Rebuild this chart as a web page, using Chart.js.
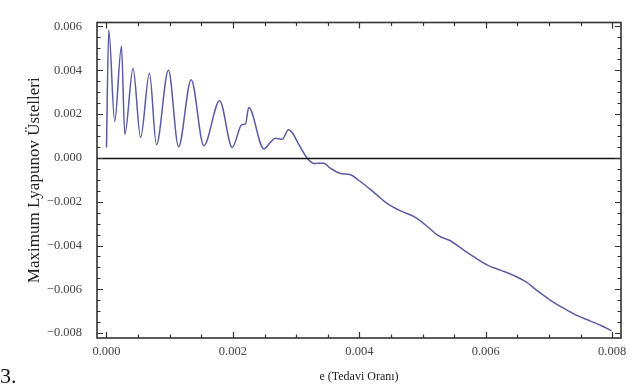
<!DOCTYPE html>
<html>
<head>
<meta charset="utf-8">
<script src="https://cdn.jsdelivr.net/npm/chart.js@4/dist/chart.umd.min.js"></script>
<style>
  html, body { margin: 0; padding: 0; background: #fff; }
  #wrap { position: relative; width: 637px; height: 390px; }
  #fig { position: absolute; left: 0px; top: 363px; font: 22px "Liberation Serif", serif; color: #111; }
</style>
</head>
<body>
<div id="wrap">
  <canvas id="chart" width="637" height="390"></canvas>
  <div id="fig">3.</div>
</div>
<script>
// e (Tedavi Oranı) values and maximum Lyapunov exponent
const eValues = [0, 0.000036, 0.00013, 0.000237, 0.00029, 0.00042, 0.00054, 0.00068, 0.00079, 0.00098,
  0.00114, 0.00134, 0.00154, 0.00179, 0.00199, 0.00214, 0.0022, 0.00225, 0.00249, 0.00259,
  0.00267, 0.00278, 0.00288, 0.00294, 0.00304, 0.00317, 0.00328, 0.00344, 0.00354, 0.0037,
  0.00385, 0.00399, 0.00423, 0.00444, 0.00465, 0.00486, 0.00504, 0.00525, 0.00544, 0.00562,
  0.00581, 0.00602, 0.00623, 0.00644, 0.00665, 0.00681, 0.00702, 0.00723, 0.00744, 0.00765,
  0.00784, 0.00799];
const lyapunov = [0.00048, 0.00584, 0.00166, 0.0051, 0.00107, 0.00408, 0.00093, 0.00386, 0.0006, 0.004,
  0.00051, 0.00357, 0.00056, 0.00261, 0.00048, 0.00151, 0.00155, 0.0023, 0.00041, 0.0007,
  0.0009, 0.00085, 0.00129, 0.00115, 0.00063, 0.00001, -0.00025, -0.00024, -0.00047, -0.00071,
  -0.00076, -0.00102, -0.00157, -0.00208, -0.00242, -0.00267, -0.00304, -0.00355, -0.00378, -0.00414,
  -0.00451, -0.00488, -0.00512, -0.00536, -0.00568, -0.00605, -0.00649, -0.00686, -0.00719, -0.00744,
  -0.00767, -0.00789];

const xTicks = [0, 0.002, 0.004, 0.006, 0.008];
const yTicks = [-0.008, -0.006, -0.004, -0.002, 0, 0.002, 0.004, 0.006];
const xLabel = "e (Tedavi Oranı)";
const yLabel = "Maximum Lyapunov Üstelleri";

function fmt(v){
  const s = Math.abs(v).toFixed(3);
  return (v < -1e-12 ? "\u2212" : "") + s;
}

// frame, inward major/minor ticks and the zero line, Mathematica style
const framePlugin = {
  id: "frame",
  afterDatasetsDraw(chart){
    const {ctx, chartArea: a, scales: {x, y}} = chart;
    ctx.save();
    // zero line
    const y0 = Math.round(y.getPixelForValue(0)) + 0.5;
    ctx.strokeStyle = "#111";
    ctx.lineWidth = 1.4;
    ctx.beginPath(); ctx.moveTo(a.left, y0); ctx.lineTo(a.right, y0); ctx.stroke();

    ctx.strokeStyle = "#333";
    ctx.lineWidth = 1.2;
    function ticksFor(major){
      const out = [];
      const step = (major[1] - major[0]) / 4;
      for(let v = major[0] - 4 * step; v <= major[major.length - 1] + 4 * step + 1e-12; v += step){
        const k = Math.round((v - major[0]) / step);
        out.push({v: major[0] + k * step, big: k % 4 === 0});
      }
      return out;
    }
    ctx.beginPath();
    ticksFor(xTicks).forEach(t => {
      const px = Math.round(x.getPixelForValue(t.v)) + 0.5;
      if(px < a.left + 1 || px > a.right - 1) return;
      const L = t.big ? 6 : 3.5;
      ctx.moveTo(px, a.bottom); ctx.lineTo(px, a.bottom - L);
      ctx.moveTo(px, a.top); ctx.lineTo(px, a.top + L);
    });
    ticksFor(yTicks).forEach(t => {
      const py = Math.round(y.getPixelForValue(t.v)) + 0.5;
      if(py < a.top + 1 || py > a.bottom - 1) return;
      const L = t.big ? 6 : 3.5;
      ctx.moveTo(a.left, py); ctx.lineTo(a.left + L, py);
      ctx.moveTo(a.right, py); ctx.lineTo(a.right - L, py);
    });
    ctx.stroke();

    ctx.strokeStyle = "#333";
    ctx.lineWidth = 1.6;
    ctx.strokeRect(a.left, a.top, a.right - a.left, a.bottom - a.top);
    ctx.restore();
  }
};

const tickFont = { family: "'Liberation Serif', serif", size: 12.5 };

new Chart(document.getElementById("chart"), {
  type: "line",
  data: {
    datasets: [{
      data: eValues.map((e, i) => ({ x: e, y: lyapunov[i] })),
      borderColor: "#5b5ba3",
      borderWidth: 1.5,
      pointRadius: 0,
      fill: false,
      cubicInterpolationMode: "monotone"
    }]
  },
  options: {
    responsive: false,
    animation: false,
    layout: { padding: { left: 0, top: 11, right: 16, bottom: 0 } },
    plugins: { legend: { display: false }, tooltip: { enabled: false } },
    scales: {
      x: {
        type: "linear",
        min: -0.00015,
        max: 0.00814,
        grid: { display: false, drawTicks: false },
        border: { display: false },
        afterBuildTicks: s => { s.ticks = xTicks.map(v => ({ value: v })); },
        afterFit: s => { s.height = 52; },
        ticks: {
          autoSkip: false, maxRotation: 0, padding: 6,
          color: "#444", font: tickFont,
          callback: v => fmt(v)
        },
        title: {
          display: true, text: xLabel, color: "#222",
          font: { family: "'Liberation Serif', serif", size: 12 },
          padding: { top: 0, bottom: 6 }
        }
      },
      y: {
        min: -0.00822,
        max: 0.00618,
        grid: { display: false, drawTicks: false },
        border: { display: false },
        afterBuildTicks: s => { s.ticks = yTicks.map(v => ({ value: v })); },
        afterFit: s => { s.width = 97; },
        ticks: {
          autoSkip: false, padding: 15,
          color: "#444", font: tickFont,
          callback: v => fmt(v)
        },
        title: {
          display: true, text: yLabel, color: "#222",
          font: { family: "'Liberation Serif', serif", size: 17 },
          padding: { top: 24, bottom: 0 }
        }
      }
    }
  },
  plugins: [framePlugin]
});
</script>
</body>
</html>
